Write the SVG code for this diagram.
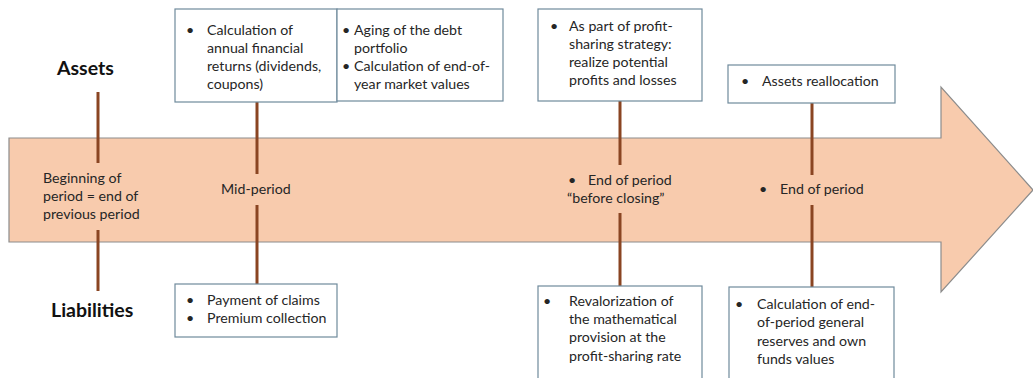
<svg xmlns="http://www.w3.org/2000/svg" width="1033" height="378" viewBox="0 0 1033 378">
  <style>
    text { font-family: Lato, "Liberation Sans", sans-serif; font-size: 14.2px; fill: #262626; }
    .hdr { font-weight: bold; font-size: 19.5px; fill: #111; }
    .box { fill: #ffffff; stroke: #6f8a9c; stroke-width: 1.2; }
    .tick { stroke: #8a4522; stroke-width: 3; fill: none; }
  </style>
  <rect width="1033" height="378" fill="#ffffff"/>

  <!-- timeline arrow -->
  <g id="timeline">
    <path d="M9,138 H941 V87 L1033,190 L941,292 V242 H9 Z" fill="#f8cbad" stroke="#8c8c8c" stroke-width="1.2"/>
  </g>

  <!-- connectors between the timeline and the boxes -->
  <g id="connectors">
    <line class="tick" x1="98" y1="92" x2="98" y2="163"/>
    <line class="tick" x1="98" y1="230" x2="98" y2="291"/>
    <line class="tick" x1="257" y1="102" x2="257" y2="174"/>
    <line class="tick" x1="257" y1="205" x2="257" y2="284"/>
    <line class="tick" x1="620" y1="101" x2="620" y2="165"/>
    <line class="tick" x1="620" y1="213" x2="620" y2="286"/>
    <line class="tick" x1="812" y1="103" x2="812" y2="175"/>
    <line class="tick" x1="812" y1="205" x2="812" y2="287"/>
  </g>

  <!-- side headings -->
  <g id="assets-label"><text class="hdr" x="57" y="75">Assets</text></g>
  <g id="liabilities-label"><text class="hdr" x="51" y="317">Liabilities</text></g>

  <!-- timeline milestones -->
  <g id="start">
    <text x="43" y="183">Beginning of</text>
    <text x="43" y="201">period = end of</text>
    <text x="43" y="219">previous period</text>
  </g>
  <g id="mid">
    <text x="221" y="194">Mid-period</text>
  </g>
  <g id="before-closing">
    <text x="568" y="185">•</text>
    <text x="588" y="185">End of period</text>
    <text x="567" y="203">“before closing”</text>
  </g>
  <g id="end">
    <text x="759" y="194">•</text>
    <text x="780" y="194">End of period</text>
  </g>

  <!-- asset-side boxes -->
  <g id="returns">
    <rect class="box" x="175" y="9" width="162" height="93"/>
    <text x="186" y="35">•</text>
    <text x="207" y="35">Calculation of</text>
    <text x="207" y="53">annual financial</text>
    <text x="207" y="71">returns (dividends,</text>
    <text x="207" y="89">coupons)</text>
  </g>
  <g id="aging">
    <rect class="box" x="337" y="9" width="166" height="92"/>
    <text x="342" y="35">•</text>
    <text x="354" y="35">Aging of the debt</text>
    <text x="354" y="53">portfolio</text>
    <text x="342" y="71">•</text>
    <text x="354" y="71">Calculation of end-of-</text>
    <text x="354" y="89">year market values</text>
  </g>
  <g id="realize">
    <rect class="box" x="538" y="9" width="164" height="92"/>
    <text x="550" y="31">•</text>
    <text x="569" y="31">As part of profit-</text>
    <text x="569" y="49">sharing strategy:</text>
    <text x="569" y="67">realize potential</text>
    <text x="569" y="85">profits and losses</text>
  </g>
  <g id="reallocation">
    <rect class="box" x="728" y="65" width="167" height="38"/>
    <text x="741" y="86">•</text>
    <text x="762" y="86">Assets reallocation</text>
  </g>

  <!-- liability-side boxes -->
  <g id="claims">
    <rect class="box" x="175" y="284" width="162" height="53"/>
    <text x="186" y="305">•</text>
    <text x="207" y="305">Payment of claims</text>
    <text x="186" y="323">•</text>
    <text x="207" y="323">Premium collection</text>
  </g>
  <g id="revalorization">
    <rect class="box" x="538" y="286" width="164" height="100"/>
    <text x="543" y="306">•</text>
    <text x="569" y="306">Revalorization of</text>
    <text x="569" y="324">the mathematical</text>
    <text x="569" y="342">provision at the</text>
    <text x="569" y="361">profit-sharing rate</text>
  </g>
  <g id="reserves">
    <rect class="box" x="729" y="287" width="165" height="100"/>
    <text x="735" y="309">•</text>
    <text x="757" y="309">Calculation of end-</text>
    <text x="757" y="327">of-period general</text>
    <text x="757" y="346">reserves and own</text>
    <text x="757" y="364">funds values</text>
  </g>
</svg>
